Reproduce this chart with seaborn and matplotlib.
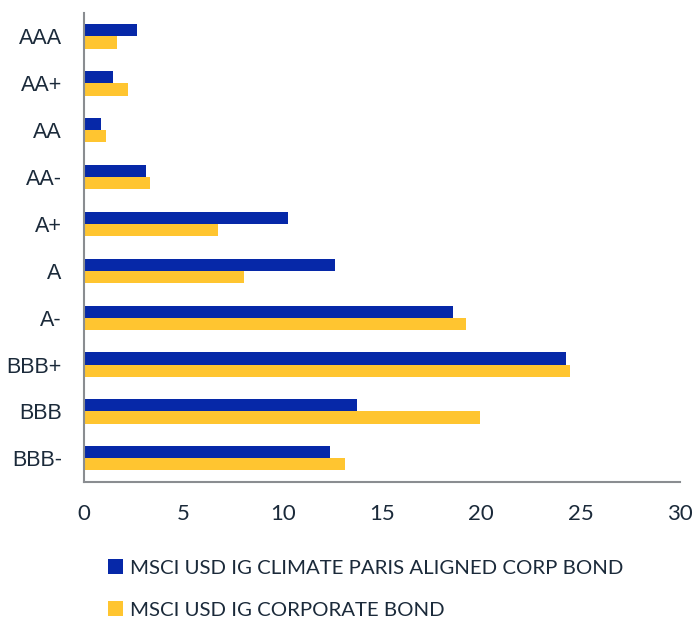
import pandas as pd
import matplotlib
matplotlib.use("Agg")
import matplotlib.pyplot as plt
import seaborn as sns
from matplotlib.patches import Patch

# ratings (top to bottom) and weights (%) per index
ratings = ["AAA", "AA+", "AA", "AA-", "A+", "A", "A-", "BBB+", "BBB", "BBB-"]
paris_aligned = [2.68, 1.44, 0.86, 3.14, 10.25, 12.65, 18.59, 24.26, 13.77, 12.41]
corporate = [1.66, 2.23, 1.11, 3.34, 6.76, 8.07, 19.26, 24.49, 19.93, 13.12]
series_names = ["MSCI USD IG CLIMATE PARIS ALIGNED CORP BOND", "MSCI USD IG CORPORATE BOND"]
colors = ["#0628A8", "#FFC530"]

df = pd.DataFrame({
    "rating": ratings * 2,
    "value": paris_aligned + corporate,
    "series": [series_names[0]] * len(ratings) + [series_names[1]] * len(ratings),
})

sns.set_style("white")
plt.rcParams["font.family"] = ["Liberation Sans", "DejaVu Sans"]
narrow = ["Lato", "DejaVu Sans"]
text_col = "#1b2a3a"

fig = plt.figure(figsize=(6.95, 6.20), dpi=100)
ax = fig.add_axes([0.1209, 0.223, 0.978 - 0.1209, 0.979 - 0.223])

sns.barplot(data=df, x="value", y="rating", hue="series", order=ratings,
            hue_order=series_names, palette=colors, width=0.52, ax=ax,
            legend=False, saturation=1, linewidth=0)

ax.set_xlim(0, 30)
ax.set_ylim(9.5, -0.5)
ax.set_xticks(range(0, 31, 5))
ax.set_xlabel("")
ax.set_ylabel("")

for side in ["top", "right"]:
    ax.spines[side].set_visible(False)
for side in ["left", "bottom"]:
    ax.spines[side].set_color("#8a8d91")
    ax.spines[side].set_linewidth(1.5)

ax.tick_params(axis="y", length=0, pad=16, labelsize=15.5, labelcolor=text_col)
ax.tick_params(axis="x", length=0, pad=16, labelsize=16, labelcolor=text_col)
for lab in ax.get_xticklabels():
    lab.set_fontfamily(narrow)

handles = [Patch(facecolor=c, edgecolor="none") for c in colors]
fig.legend(handles, series_names, loc="upper left", bbox_to_anchor=(0.14, 0.115),
           frameon=False, prop={"family": narrow, "size": 14.7},
           handlelength=0.75, handleheight=0.75, handletextpad=0.35,
           labelspacing=1.2, borderpad=0, labelcolor=text_col)

fig.savefig("out.png", dpi=100)
